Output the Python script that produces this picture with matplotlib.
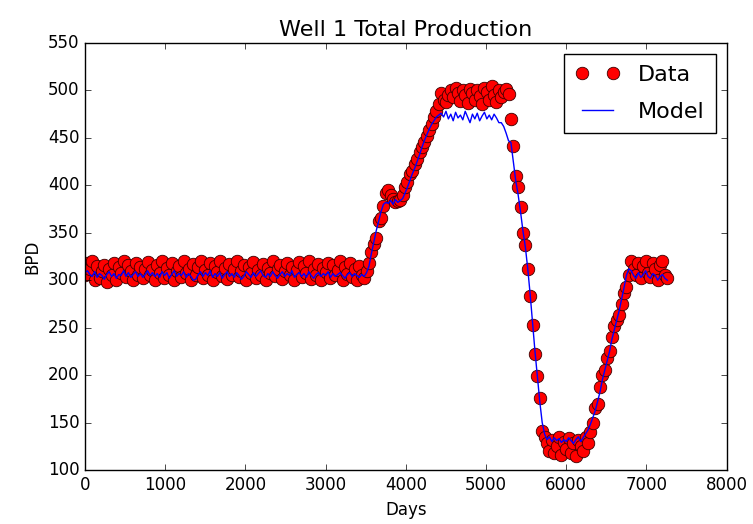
import numpy as np
import matplotlib
matplotlib.use("Agg")
import matplotlib.pyplot as plt

plt.style.use("classic")
plt.rcParams["figure.facecolor"] = "white"

# sampling grid (every 30 days)
days = np.arange(0, 7261, 30)

# measured production, BPD
data_flat = [305, 318, 312, 320, 300, 315, 302, 310, 316, 298,
             312, 305, 318, 300, 314, 308, 320, 303, 316, 310,
             300, 318, 306, 314, 302, 312, 319, 305, 311, 300,
             316, 308, 320, 302, 313, 305, 318, 300, 310, 315,
             303, 320, 308, 312, 300, 317, 306, 314, 320, 302,
             311, 305, 318, 300, 315, 309, 320, 304, 313, 301,
             317, 306, 312, 320, 303, 310, 316, 300, 314, 308,
             319, 302, 311, 305, 317, 300, 313, 308, 320, 304,
             312, 316, 301, 310, 318, 305, 314, 300, 311, 319,
             303, 315, 308, 320, 301, 312, 306, 317, 300, 313,
             309, 318, 302, 316, 305, 311, 320, 300, 314, 307,
             318, 303, 312, 300, 315, 306, 302]
data_rise1 = [310, 318, 330, 338, 345, 362, 366, 378, 392, 395,
              390, 386, 382, 383, 385, 390, 398, 403, 412, 415,
              422, 428, 435, 440, 446, 452, 458, 465, 472, 478, 486]
data_peak = [497, 490, 488, 495, 500, 493, 503, 497, 489, 500,
             495, 487, 502, 497, 490, 500, 494, 486, 503, 498,
             490, 505, 495, 488, 500, 493, 498, 502, 496]
data_drop = [470, 441, 410, 398, 377, 350, 337, 312, 283, 253, 222, 199, 176, 141]
data_low = [135, 128, 120, 132, 118, 125, 135, 116, 130, 122,
            134, 118, 128, 115, 132, 125, 120, 135, 128, 140]
data_rise2 = [150, 165, 170, 188, 200, 205, 218, 225, 240, 252,
              258, 263, 275, 287, 293, 305]
data_end = [320, 312, 305, 318, 302, 315, 320, 308, 303, 318,
            312, 300, 316, 320, 305, 302]

# model prediction, BPD
model_flat = [308, 310, 306, 304, 309, 303, 307, 305, 301, 306,
              309, 304, 307, 302, 306, 305, 310, 304, 308, 303,
              306, 309, 304, 307, 303, 306, 310, 305, 308, 304,
              307, 303, 309, 305, 308, 302, 306, 310, 304, 307,
              305, 309, 303, 307, 304, 300, 301, 306, 309, 304,
              308, 305, 310, 303, 307, 304, 308, 302, 306, 309,
              304, 307, 303, 308, 305, 301, 304, 309, 306, 303,
              308, 304, 307, 310, 305, 303, 307, 304, 309, 305,
              302, 306, 309, 304, 307, 305, 310, 303, 306, 308,
              304, 307, 303, 309, 305, 302, 306, 308, 304, 307,
              305, 309, 303, 307, 304, 306, 308, 305, 302, 306,
              308, 304, 307, 305, 303, 306, 304]
model_rise1 = [308, 315, 328, 340, 352, 362, 372, 380, 382, 381,
               384, 380, 385, 382, 384, 386, 392, 398, 405, 412,
               418, 425, 432, 440, 447, 453, 459, 464, 468, 472, 474]
model_peak = [476, 472, 478, 470, 475, 468, 477, 471, 474, 469,
              478, 472, 466, 475, 470, 476, 468, 473, 477, 470,
              474, 469, 475, 471, 466, 466, 462, 455, 447]
model_drop = [445, 425, 405, 390, 372, 352, 335, 312, 285, 255, 225, 198, 172, 150]
model_low = [138, 132, 135, 130, 134, 131, 133, 129, 132, 130,
             134, 131, 128, 132, 135, 130, 134, 138, 142, 148]
model_rise2 = [155, 162, 172, 182, 195, 205, 215, 225, 238, 248,
               258, 268, 280, 292, 305, 312]
model_end = [310, 305, 302, 308, 303, 306, 310, 304, 302, 307,
             305, 300, 304, 306, 302, 300]

data = np.concatenate([data_flat, data_rise1, data_peak, data_drop,
                       data_low, data_rise2, data_end])
model = np.concatenate([model_flat, model_rise1, model_peak, model_drop,
                        model_low, model_rise2, model_end])

fig = plt.figure(figsize=(7.53, 5.24), dpi=100)
ax = fig.add_axes([0.113, 0.103, 0.852, 0.815])
ax.plot(days, data, "ro", ms=9, mec="#3a0000", mew=0.6, label="Data")
ax.plot(days, model, "b-", lw=1, label="Model")
ax.set_xlim(0, 8000)
ax.set_ylim(100, 550)
ax.set_xlabel("Days")
ax.set_ylabel("BPD")
ax.set_title("Well 1 Total Production", fontsize=16)
ax.legend(loc="upper right", fontsize=16, labelspacing=0.75, borderpad=0.5)
fig.savefig("out.png", dpi=100, facecolor="white")
